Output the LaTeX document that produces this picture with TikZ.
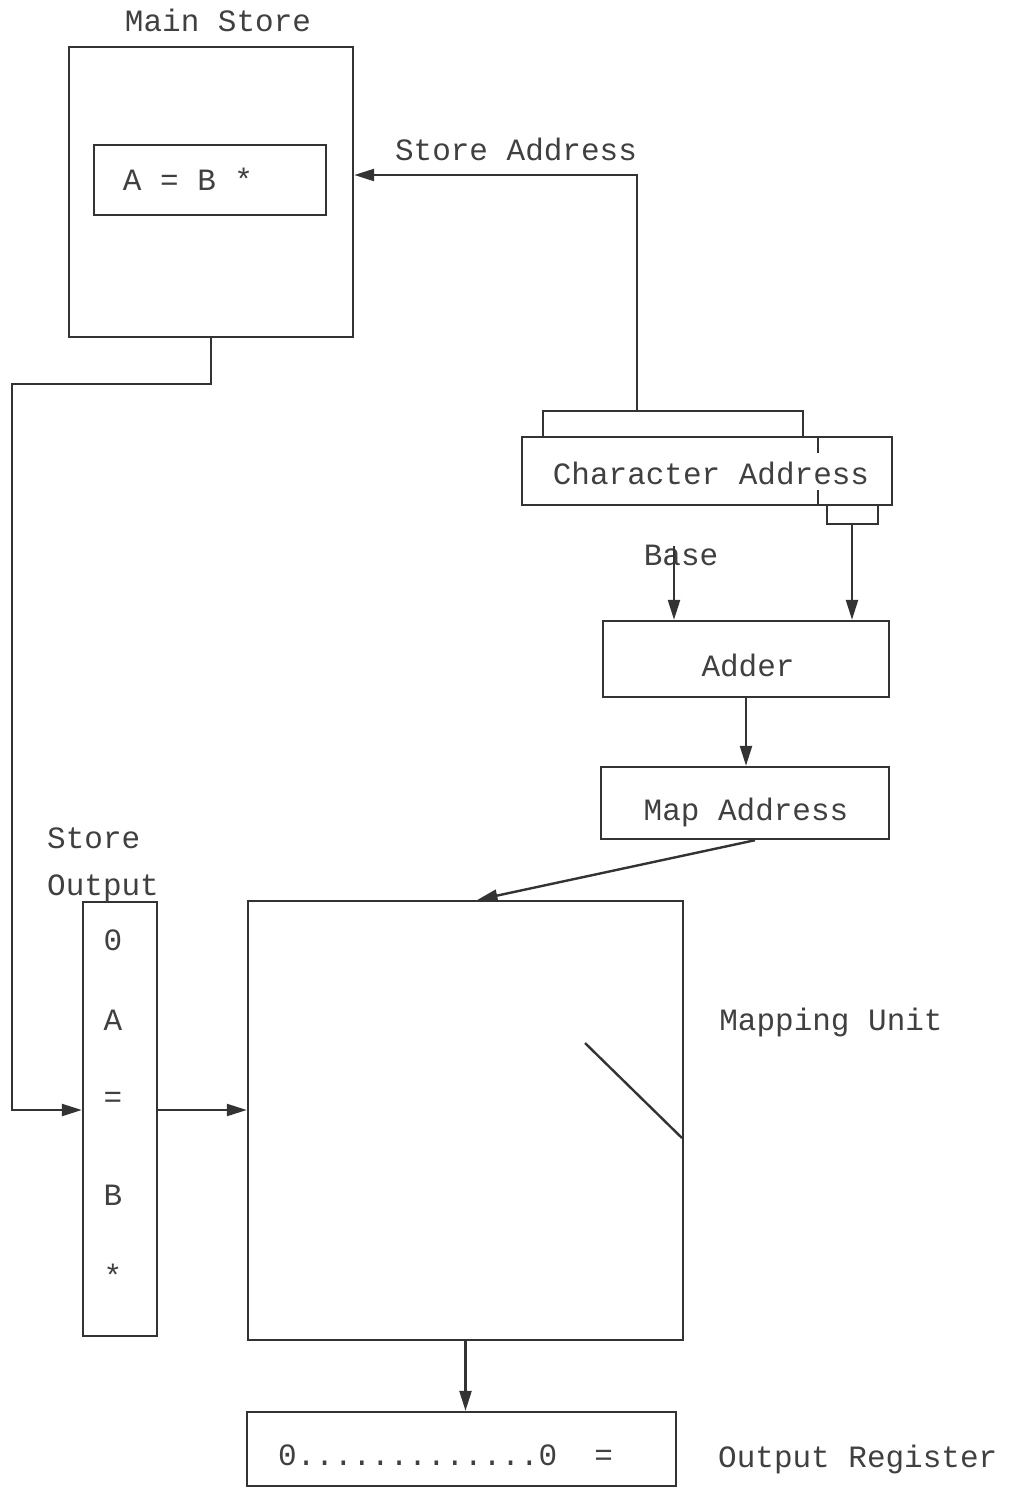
\documentclass[tikz,border=0pt]{standalone}
\usepackage{fontspec}
\setmainfont{Liberation Mono}
\usetikzlibrary{arrows.meta,calc}
\begin{document}
\begin{tikzpicture}[x=1pt,y=-1pt,
  ink/.style={draw=black!80, line width=2.4pt},
  box/.style={ink, rectangle, inner sep=0pt},
  lbl/.style={text=black!75, font=\fontsize{31}{36}\selectfont, inner sep=0pt, anchor=base},
  arr/.style={ink, -{Triangle[length=20pt,width=12pt]}},
]
\useasboundingbox (0,0) rectangle (1011,1488);
\fill[white] (0,0) rectangle (1011,1488);

% Main store
\node[box, minimum width=284pt, minimum height=290pt] (ms) at (211,192) {};
\node[box, minimum width=232pt, minimum height=70pt] (inner) at (210,180) {};
\node[lbl] (abtext) at (188,190) {A = B *};
\node[lbl] (mslbl) at (218,32) {Main Store};

% Character address
\node[box, minimum width=370pt, minimum height=68pt] (ca) at (707,471) {};
\node[lbl] (catext) at (711,484) {Character Address};
\draw[ink] (543,437) |- (803,411) -- (803,437);
\draw[ink, line width=1.6pt] (818,437) -- (818,453) (818,490) -- (818,505);
\draw[ink] (827,505) |- (878,524) -- (878,505);
\coordinate (saTop) at (637,411);
\coordinate (saCorner) at (637,175);
\coordinate (tabB) at (852,524);
\draw[arr] (saTop) -- (saCorner) -- (ms.east |- saCorner);
\node[lbl] (salbl) at (516,160) {Store Address};

% Adder
\node[box, minimum width=286pt, minimum height=76pt] (add) at (746,659) {};
\node[lbl] (addlbl) at (748,676) {Adder};
\draw[arr] (tabB) -- (tabB |- add.north);
\node[lbl] (baselbl) at (681,565) {Base};
\coordinate (baseStart) at (674,546);
\draw[arr] (baseStart) -- (baseStart |- add.north);

% Map address
\node[box, minimum width=288pt, minimum height=72pt] (ma) at (745,803) {};
\node[lbl] (malbl) at (746,820) {Map Address};
\draw[arr] (add.south) -- (add.south |- ma.north);

% Mapping unit
\node[box, minimum width=435pt, minimum height=439pt] (mu) at (465.5,1120.5) {};
\draw[arr] ($(ma.south)+(10,0)$) -- ($(mu.north)+(12,0)$);
\draw[ink] (585,1043) -- (682,1138);
\node[lbl] (mulbl) at (831,1030) {Mapping Unit};

% Store output column
\node[box, minimum width=74pt, minimum height=434pt] (so) at (120,1119) {};
\node[lbl, anchor=base west] (sol1) at (47,848) {Store};
\node[lbl, anchor=base west] (sol2) at (47,895) {Output};
\node[lbl] (c0) at (113,950) {0};
\node[lbl] (cA) at (113,1030) {A};
\node[lbl] (cE) at (113,1107) {=};
\node[lbl] (cB) at (113,1205) {B};
\node[lbl] (cS) at (113,1286) {*};

\coordinate (inY) at (12,1110);
\draw[arr] (ms.south) -- ++(0,46) -| (inY) -- (inY -| so.west);
\draw[arr] (so.east |- inY) -- (inY -| mu.west);

% Output register
\node[box, minimum width=429pt, minimum height=74pt] (or) at (461.5,1449) {};
\draw[arr] (mu.south) -- (mu.south |- or.north);
\node[lbl, anchor=base west] (ortext) at (278,1465) {0.............0~~=};
\node[lbl, anchor=base west] (orlbl) at (718,1467) {Output Register};
\end{tikzpicture}
\end{document}
